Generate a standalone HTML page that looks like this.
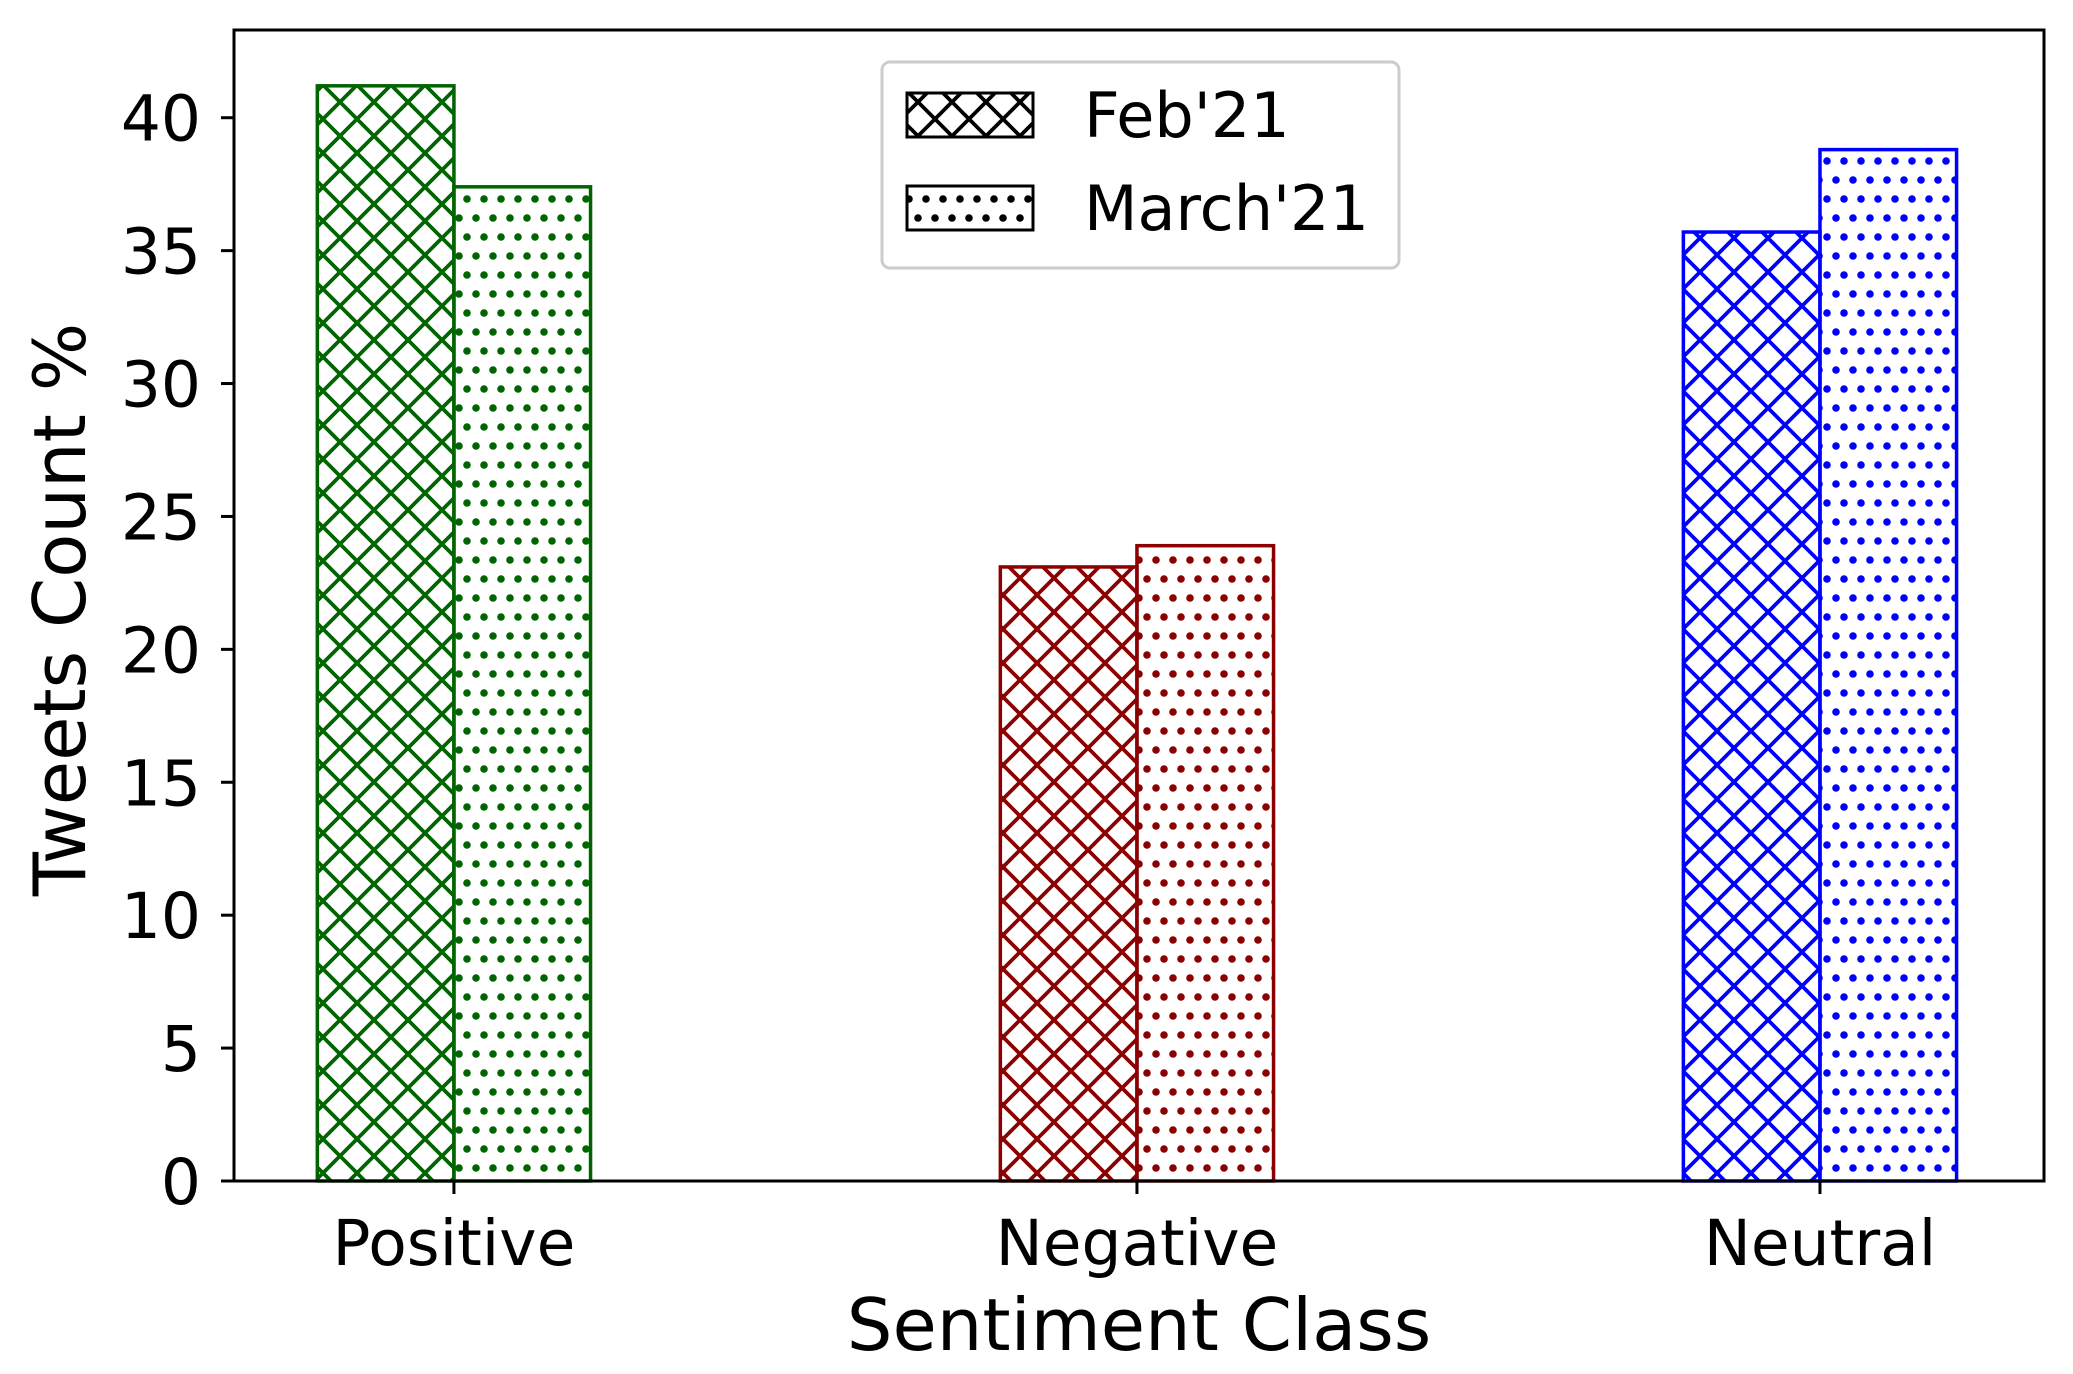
<!DOCTYPE html>
<html><head><meta charset="utf-8"><style>
html,body{margin:0;padding:0;background:#fff}
svg{display:block;font-family:"DejaVu Sans","Liberation Sans",sans-serif}
</style></head><body>
<svg id="chart" width="2073" height="1374" viewBox="0 0 2073 1374" xmlns="http://www.w3.org/2000/svg">
<defs id="defs"></defs>
<g id="bars"></g>
<g id="axes"></g>
</svg>
<script>
const categories = ["Positive", "Negative", "Neutral"];
const seriesNames = ["Feb'21", "March'21"];
const febValues = [41.2, 23.1, 35.7];
const marchValues = [37.4, 23.9, 38.8];
const yTicks = [0, 5, 10, 15, 20, 25, 30, 35, 40];
const colors = ["#006400", "#8b0000", "#0000ff"];

const NS = "http://www.w3.org/2000/svg";
const L = 234, R = 2044, T = 30, B = 1181;
const xMin = -0.322, xMax = 2.328, yMin = 0, yMax = 43.3;
const xs = v => L + (v - xMin) / (xMax - xMin) * (R - L);
const ys = v => B - (v - yMin) / (yMax - yMin) * (B - T);
const barW = 0.2;

function mk(tag, attrs, parent) {
  const e = document.createElementNS(NS, tag);
  for (const k in attrs) e.setAttribute(k, attrs[k]);
  parent.appendChild(e);
  return e;
}
const defs = document.getElementById('defs');
const bars = document.getElementById('bars');
const axes = document.getElementById('axes');

function makePatterns(id, color) {
  const p = mk('pattern', {id: 'x-' + id, patternUnits: 'userSpaceOnUse', width: 34, height: 34}, defs);
  mk('path', {d: 'M0,0 L34,34 M-17,17 L17,51 M17,-17 L51,17 M34,0 L0,34 M17,-17 L-17,17 M51,17 L17,51', stroke: color, 'stroke-width': 3.8, fill: 'none'}, p);
  const d = mk('pattern', {id: 'd-' + id, patternUnits: 'userSpaceOnUse', width: 34, height: 38}, defs);
  mk('circle', {cx: 8, cy: 9, r: 3.8, fill: color}, d);
  mk('circle', {cx: 25, cy: 9, r: 3.8, fill: color}, d);
  mk('circle', {cx: 0, cy: 28, r: 3.8, fill: color}, d);
  mk('circle', {cx: 17, cy: 28, r: 3.8, fill: color}, d);
  mk('circle', {cx: 34, cy: 28, r: 3.8, fill: color}, d);
}
colors.forEach((c, i) => makePatterns(i, c));
makePatterns('k', '#000');

categories.forEach((cat, i) => {
  const x0 = xs(i - barW), x1 = xs(i), x2 = xs(i + barW);
  const yf = ys(febValues[i]), ym = ys(marchValues[i]);
  const fb = mk('rect', {x: x0, y: yf, width: x1 - x0, height: ys(0) - yf, fill: 'url(#x-' + i + ')', stroke: colors[i], 'stroke-width': 3.5}, bars);
  
  
  const mb = mk('rect', {x: x1, y: ym, width: x2 - x1, height: ys(0) - ym, fill: 'url(#d-' + i + ')', stroke: colors[i], 'stroke-width': 3.5}, bars);
  
  
});

const frame = mk('rect', {x: L, y: T, width: R - L, height: B - T, fill: 'none', stroke: '#000', 'stroke-width': 3}, axes);



yTicks.forEach(v => {
  const y = ys(v);
  mk('line', {x1: L - 13, x2: L, y1: y, y2: y, stroke: '#000', 'stroke-width': 3}, axes);
  const t = mk('text', {x: L - 33, y: y + 23, 'text-anchor': 'end', 'font-size': 63, fill: '#000'}, axes);
  t.textContent = v;
  
  
});
categories.forEach((cat, i) => {
  const x = xs(i);
  mk('line', {x1: x, x2: x, y1: B, y2: B + 13, stroke: '#000', 'stroke-width': 3}, axes);
  const t = mk('text', {x: x, y: 1265, 'text-anchor': 'middle', 'font-size': 63, fill: '#000'}, axes);
  t.textContent = cat;
  
  
});

const xl = mk('text', {x: (L + R) / 2, y: 1350, 'text-anchor': 'middle', 'font-size': 72, fill: '#000'}, axes);
xl.textContent = 'Sentiment Class';


const yl = mk('text', {x: 0, y: 0, 'text-anchor': 'middle', 'font-size': 72, fill: '#000', transform: 'translate(85,' + ((T + B) / 2 + 4) + ') rotate(-90)'}, axes);
yl.textContent = 'Tweets Count %';



const lg = mk('g', {}, axes);


mk('rect', {x: 882, y: 62, width: 517, height: 206, rx: 8, fill: '#fff', stroke: '#ccc', 'stroke-width': 3}, lg);
seriesNames.forEach((s, i) => {
  const y = 93 + i * 93;
  const sw = mk('rect', {x: 907, y: y, width: 126, height: 44, fill: i === 0 ? 'url(#x-k)' : 'url(#d-k)', stroke: '#000', 'stroke-width': 3}, lg);
  
  
  const t = mk('text', {x: 1084, y: y + 44, 'font-size': 62, fill: '#000'}, lg);
  t.textContent = s;
  
  
});
</script>
</body></html>
